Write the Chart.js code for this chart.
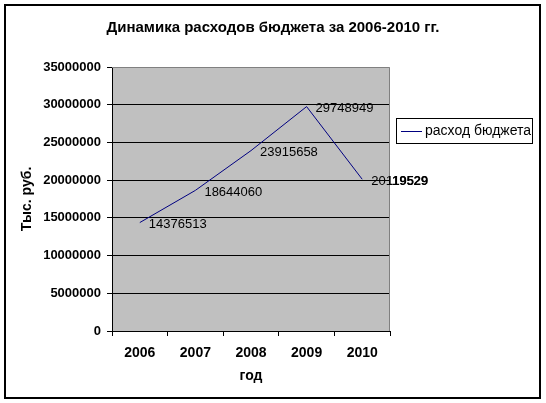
<!DOCTYPE html>
<html>
<head>
<meta charset="utf-8">
<script src="https://cdn.jsdelivr.net/npm/chart.js@4.4.0/dist/chart.umd.min.js"></script>
<style>
  html, body { margin: 0; padding: 0; background: #fff; }
  #wrap { width: 546px; height: 403px; }
</style>
</head>
<body>
<div id="wrap"><canvas id="chart_line"></canvas></div>
<script>
// chart data
const years = ['2006', '2007', '2008', '2009', '2010'];
const expenses = [14376513, 18644060, 23915658, 29748949, 20119529];
const seriesName = 'расход бюджета';
const yTicks = [0, 5000000, 10000000, 15000000, 20000000, 25000000, 30000000, 35000000];

Chart.defaults.font.family = 'Arial, "Liberation Sans", sans-serif';
Chart.defaults.color = '#000';

// frame, plot background, value labels and boxed legend like Excel
const excelLook = {
  id: 'excelLook',
  afterLayout(chart) {
    // title is centred on the whole picture, not only the left part
    const t = chart.titleBlock;
    if (t) { t.left = 0; t.right = chart.width; t.width = chart.width; }
  },
  beforeDraw(chart) {
    const c = chart.ctx, a = chart.chartArea;
    c.save();
    c.fillStyle = '#fff';
    c.fillRect(0, 0, chart.width, chart.height);
    c.strokeStyle = '#000';
    c.lineWidth = 2;
    c.strokeRect(5, 5, 535, 393);
    c.fillStyle = '#c0c0c0';
    c.fillRect(a.left, a.top, a.right - a.left, a.bottom - a.top);
    c.restore();
  },
  afterDatasetsDraw(chart) {
    const c = chart.ctx, a = chart.chartArea;
    const meta = chart.getDatasetMeta(0);
    const vals = chart.data.datasets[0].data;
    c.save();
    // plot border top/right
    c.strokeStyle = '#808080';
    c.lineWidth = 1;
    c.beginPath();
    c.moveTo(a.left, a.top + 0.5);
    c.lineTo(a.right - 0.5, a.top + 0.5);
    c.lineTo(a.right - 0.5, a.bottom);
    c.stroke();
    c.fillStyle = '#000';
    c.textAlign = 'left';
    c.textBaseline = 'middle';
    c.font = '13px Arial, "Liberation Sans", sans-serif';
    meta.data.forEach((p, i) => c.fillText(String(vals[i]), p.x + 9, p.y + 2));
    // text falling outside the plot looks heavier in the original
    c.beginPath();
    c.rect(a.right, 0, chart.width - a.right, chart.height);
    c.clip();
    c.font = 'bold 13px Arial, "Liberation Sans", sans-serif';
    meta.data.forEach((p, i) => c.fillText(String(vals[i]), p.x + 9, p.y + 2));
    c.restore();

    // legend
    c.save();
    const ds = chart.data.datasets[0];
    c.strokeStyle = '#000';
    c.lineWidth = 1;
    c.strokeRect(396.5, 118.5, 136, 25);
    c.strokeStyle = ds.borderColor;
    c.beginPath();
    c.moveTo(401, 131.5);
    c.lineTo(422, 131.5);
    c.stroke();
    c.fillStyle = '#000';
    c.textBaseline = 'middle';
    c.font = '14px Arial, "Liberation Sans", sans-serif';
    c.fillText(ds.label, 425, 131);
    c.restore();
  }
};

new Chart(document.getElementById('chart_line'), {
  type: 'line',
  data: {
    labels: years,
    datasets: [{
      label: seriesName,
      data: expenses,
      borderColor: '#000080',
      borderWidth: 1,
      pointRadius: 0,
      tension: 0,
      fill: false
    }]
  },
  options: {
    responsive: true,
    maintainAspectRatio: false,
    animation: false,
    layout: { padding: { left: 0, right: 156, top: 0, bottom: 0 } },
    plugins: {
      legend: { display: false },
      tooltip: { enabled: false },
      title: {
        display: true,
        text: 'Динамика расходов бюджета за 2006-2010 гг.',
        font: { size: 15, weight: 'bold' },
        color: '#000',
        padding: { top: 19, bottom: 30 }
      }
    },
    scales: {
      x: {
        offset: true,
        afterFit: s => { s.height = 72; },
        grid: {
          offset: true,
          drawOnChartArea: false,
          drawTicks: true,
          tickLength: 5,
          color: '#000'
        },
        border: { color: '#000', width: 1 },
        ticks: { font: { size: 14, weight: 'bold' }, padding: 9, color: '#000' },
        title: {
          display: true,
          text: 'год',
          font: { size: 14, weight: 'bold' },
          color: '#000',
          padding: { top: 0, bottom: 18 }
        }
      },
      y: {
        min: 0,
        max: 35000000,
        afterFit: s => { s.width = 112; },
        afterBuildTicks: s => { s.ticks = yTicks.map(v => ({ value: v })); },
        grid: {
          color: c => (c.tick && c.tick.value === 35000000) ? 'rgba(0,0,0,0)' : '#000',
          tickColor: '#000',
          tickLength: 5,
          lineWidth: 1
        },
        border: { color: '#000', width: 1 },
        ticks: {
          font: { size: 13, weight: 'bold' },
          padding: 6,
          color: '#000',
          callback: v => String(v)
        },
        title: {
          display: true,
          text: 'Тыс. руб.',
          font: { size: 14, weight: 'bold' },
          color: '#000',
          padding: { top: 19, bottom: 0 }
        }
      }
    }
  },
  plugins: [excelLook]
});
</script>
</body>
</html>
